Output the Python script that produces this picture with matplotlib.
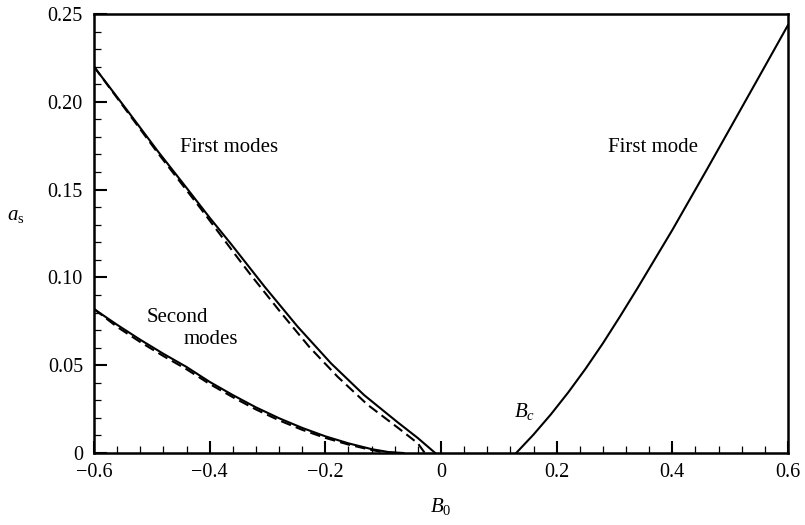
import matplotlib
matplotlib.use("Agg")
import matplotlib.pyplot as plt
import numpy as np

plt.rcParams['font.family'] = ['Liberation Serif', 'DejaVu Serif']
plt.rcParams['mathtext.fontset'] = 'custom'
plt.rcParams['mathtext.rm'] = 'Liberation Serif'
plt.rcParams['mathtext.it'] = 'Liberation Serif:italic'

# ---- data ----
first_solid_x = [-0.60, -0.54, -0.49, -0.44, -0.40, -0.363, -0.305, -0.248, -0.19,
                 -0.133, -0.075, -0.04, -0.01]
first_solid_y = [0.220, 0.194, 0.172, 0.151, 0.134, 0.119, 0.0947, 0.072, 0.051,
                 0.033, 0.0175, 0.0085, 0.0]

first_dash_x = [-0.60, -0.49, -0.415, -0.357, -0.328, -0.277, -0.228, -0.179, -0.127,
                -0.075, -0.04, -0.028]
first_dash_y = [0.220, 0.171, 0.139, 0.1135, 0.101, 0.080, 0.0605, 0.0435, 0.0275,
                0.0145, 0.0055, 0.0]

second_solid_x = [-0.60, -0.56, -0.52, -0.48, -0.44, -0.40, -0.36, -0.32, -0.28, -0.24,
                  -0.20, -0.16, -0.12, -0.09, -0.065]
second_solid_y = [0.082, 0.073, 0.0645, 0.0565, 0.049, 0.0405, 0.033, 0.026, 0.0198, 0.0143,
                  0.0095, 0.0055, 0.0022, 0.0005, 0.0]

second_dash_x = [-0.60, -0.56, -0.52, -0.48, -0.44, -0.40, -0.36, -0.32, -0.28, -0.24,
                 -0.20, -0.16, -0.12, -0.10, -0.075]
second_dash_y = [0.082, 0.0718, 0.0632, 0.0552, 0.0477, 0.0393, 0.0318, 0.0248, 0.0186, 0.0132,
                 0.0086, 0.0048, 0.0017, 0.0005, 0.0]

right_x = [0.13, 0.16, 0.19, 0.22, 0.25, 0.28, 0.31, 0.34, 0.37, 0.40, 0.43, 0.46, 0.50, 0.55, 0.60]
right_y = [0.0, 0.0105, 0.022, 0.0345, 0.048, 0.0625, 0.078, 0.094, 0.1105, 0.127, 0.1443,
           0.1616, 0.185, 0.2143, 0.2437]

xticks = [-0.6, -0.4, -0.2, 0.0, 0.2, 0.4, 0.6]
xticklabels = ['\u22120.6', '\u22120.4', '\u22120.2', '0', '0.2', '0.4', '0.6']
yticks = [0.0, 0.05, 0.10, 0.15, 0.20, 0.25]
yticklabels = ['0', '0.05', '0.10', '0.15', '0.20', '0.25']

fig = plt.figure(figsize=(8.05, 5.25), dpi=100)
ax = fig.add_axes([94/805, 1 - 453/525, (788 - 94)/805, (453 - 14)/525])

lw = 1.5
dash = (0, (5, 2.5))
kw = dict(color='black', lw=lw, solid_joinstyle='round', dash_joinstyle='round')
ax.plot(first_solid_x, first_solid_y, **kw)
ax.plot(first_dash_x, first_dash_y, linestyle=dash, **kw)
ax.plot(second_solid_x, second_solid_y, **kw)
ax.plot(second_dash_x, second_dash_y, linestyle=dash, **kw)
ax.plot(right_x, right_y, **kw)

ax.set_xlim(-0.6, 0.6)
ax.set_ylim(0, 0.25)
ax.set_xticks(xticks)
ax.set_xticklabels(xticklabels)
ax.set_yticks(yticks)
ax.set_yticklabels(yticklabels)
ax.set_xticks(np.arange(-0.6, 0.601, 0.04), minor=True)
ax.set_yticks(np.arange(0, 0.2501, 0.01), minor=True)

ax.tick_params(which='both', direction='in', top=False, right=False, labelsize=14.5)
ax.tick_params(which='major', length=9, width=1.5)
ax.tick_params(which='minor', length=5, width=0.9)
ax.tick_params(axis='x', pad=7.5)
ax.tick_params(axis='y', pad=8)

for s in ax.spines.values():
    s.set_linewidth(1.8)

ax.set_xlabel(r'$B_0$', fontsize=15, labelpad=10)
ax.set_ylabel(r'$a_\mathrm{s}$', fontsize=15, rotation=0, ha='center', va='center')
ax.yaxis.set_label_coords(-0.112, 0.542)

ax.text(-0.366, 0.1737, 'First modes', fontsize=15, ha='center', va='center')
ax.text(-0.456, 0.0769, 'Second', fontsize=15, ha='center', va='center')
ax.text(-0.398, 0.0646, 'modes', fontsize=15, ha='center', va='center')
ax.text(0.366, 0.1737, 'First mode', fontsize=15, ha='center', va='center')
ax.text(0.126, 0.0207, r'$B_c$', fontsize=15, ha='left', va='baseline')

fig.savefig('out.png', dpi=100)
